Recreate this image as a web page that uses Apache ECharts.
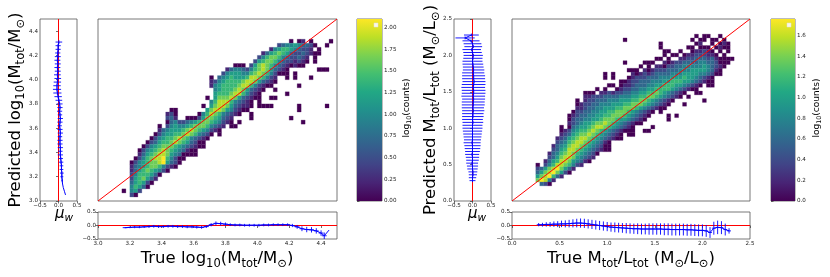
<!DOCTYPE html>
<html><head><meta charset="utf-8">
<script src="https://cdn.jsdelivr.net/npm/echarts@6/dist/echarts.min.js"></script>
<style>html,body{margin:0;padding:0;background:#fff}#c{width:830px;height:277px}</style>
</head><body><div id="c"></div>
<script>
// ================= DATA =================
// Panel 1: log10 mass. 2D histogram, rows counted from the top (rt), start column, level string
// level digit d -> log10(counts) = d * p1Vmax / 9 ; '.' = empty bin
const p1Range = [3.0, 4.5];
const p1Cols = 60, p1NRows = 45;
const p1Vmax = 2.1;
const p1Rows = [
 [5, 48, "0.01.0....0"],
 [6, 45, "2344543320..0"],
 [7, 43, "14566543221.0"],
 [8, 41, "135676532232100"],
 [9, 40, "2467764322321.0"],
 [10, 39, "25677643221210.0"],
 [11, 34, "000.25787643210100"],
 [12, 32, "1344324678753210.......000"],
 [13, 31, "24555446787642000.0"],
 [14, 28, "0.345655568876421..0.0...0"],
 [15, 28, "12456666788753210"],
 [16, 28, "1456666788642100......0"],
 [17, 29, "4566678753210..0"],
 [18, 29, "566678864210......0"],
 [19, 27, "0.577787532100..00"],
 [20, 28, "46888643210.0"],
 [21, 26, "0.57887532110.0000......0......0"],
 [22, 18, "00.......57887542100............0"],
 [23, 17, "120.....04687643210..0"],
 [24, 17, "231..000257765321....0.........0"],
 [25, 17, "03422345677654210.0...............0"],
 [26, 15, "0.245445677764321.00"],
 [27, 15, "1345556787654210"],
 [28, 14, "024556678764320.0"],
 [29, 13, "024566787643210"],
 [30, 12, "023566787653200"],
 [31, 11, "0245677765432100"],
 [32, 10, "024567876543100"],
 [33, 10, "135678875430000"],
 [34, 9, "0246788964200"],
 [35, 8, "0245677895320"],
 [36, 8, "134567764210"],
 [37, 8, "1356765420"],
 [38, 8, "24666530"],
 [39, 8, "2567531"],
 [40, 8, "356520"],
 [41, 8, "46530"],
 [42, 6, "0.452"],
 [43, 8, "20"]
];
// Panel 2: M/L
const p2Range = [0.0, 2.5];
const p2Cols = 60, p2NRows = 48;
const p2Vmax = 1.76;
const p2Rows = [
 [4, 46, "0.00..0"],
 [5, 28, "0................0.00.00.0"],
 [6, 37, "0........01..0.010"],
 [7, 37, "0......00.000.0100"],
 [8, 38, "00..0..011210.0.0"],
 [9, 38, "0.00.011222110.0"],
 [10, 36, "00.0..11223332310000"],
 [11, 28, "0....000..10122333344332000"],
 [12, 32, "0.0.110223344444543210"],
 [13, 29, "000.10122233344455554310"],
 [14, 23, "0.0....10121233334445555443200"],
 [15, 23, "0.0...0122233344455565543210"],
 [16, 27, "001223334445566655432100"],
 [17, 24, "00.011233344556665543210.00"],
 [18, 21, "0.0..012233445566665432100"],
 [19, 18, "000.1121223344556676543210..00"],
 [20, 18, "1122233334445566776543210.0"],
 [21, 16, "0.12233344455566776543210.......0"],
 [22, 16, "012233444555667776543210...0"],
 [23, 16, "11233445556677765432100"],
 [24, 15, "022334455667776543210.0"],
 [25, 14, "012334455667776543210....0.0"],
 [26, 14, "02334455677765543210.....0"],
 [27, 14, "1234556778765432100"],
 [28, 12, "0.03455678876543210....0"],
 [29, 12, "0124566787654321000..00"],
 [30, 12, "1235677876543210.00"],
 [31, 11, "12356788765432100"],
 [32, 11, "23467887654310"],
 [33, 10, "134578876543200"],
 [34, 10, "235688765432100"],
 [35, 9, "1346787654320"],
 [36, 9, "235788754321"],
 [37, 8, "135688754310"],
 [38, 6, "0.2468876421"],
 [39, 6, "2357897531"],
 [40, 6, "357897520"],
 [41, 6, "5789631"],
 [42, 6, "79841"],
 [43, 7, "320"]
];

// Residual profiles
const p1SideY = [3.05,3.08,3.11,3.14,3.17,3.20,3.23,3.26,3.29,3.32,3.35,3.38,3.41,3.44,3.47,3.50,3.53,3.56,3.59,3.62,3.65,3.68,3.71,3.74,3.77,3.80,3.83,3.86,3.89,3.92,3.95,3.98,4.01,4.04,4.07,4.10,4.13,4.16,4.19,4.22,4.25,4.28,4.31];
const p1SideMean = [0.19,0.16,0.13,0.11,0.10,0.09,0.09,0.08,0.08,0.07,0.06,0.05,0.05,0.05,0.04,0.04,0.04,0.05,0.04,0.03,0.04,0.05,0.04,0.03,0.04,0.03,0.01,-0.01,-0.03,-0.04,-0.04,-0.03,-0.02,-0.03,-0.02,-0.03,-0.02,-0.03,-0.02,-0.02,-0.01,-0.01,0.01];
const p1SideStd = [0,0,0,0,0.02,0.04,0.05,0.05,0.05,0.06,0.06,0.07,0.06,0.07,0.07,0.07,0.06,0.07,0.07,0.06,0.07,0.07,0.06,0.07,0.07,0.08,0.09,0.1,0.11,0.11,0.1,0.1,0.09,0.09,0.08,0.08,0.08,0.08,0.08,0.07,0.07,0.07,0.09];
const p1BotX = [3.17,3.20,3.23,3.26,3.29,3.32,3.35,3.38,3.41,3.44,3.47,3.50,3.53,3.56,3.59,3.62,3.65,3.68,3.71,3.74,3.77,3.80,3.83,3.86,3.89,3.92,3.95,3.98,4.01,4.04,4.07,4.10,4.13,4.16,4.19,4.22,4.25,4.28,4.31,4.34,4.37,4.40,4.42,4.45];
const p1BotMean = [-0.08,-0.07,-0.06,-0.06,-0.05,-0.04,-0.03,-0.04,-0.04,-0.03,-0.03,-0.04,-0.04,-0.05,-0.05,-0.06,-0.07,-0.04,0.03,0.08,0.07,0.05,0.03,0.02,0.02,0.01,0.01,0.01,0.01,0.02,0.02,0.03,0.03,0.03,0.03,0.00,-0.05,-0.12,-0.15,-0.16,-0.20,-0.28,-0.38,-0.17];
const p1BotStd = [0.02,0.03,0.04,0.04,0.04,0.05,0.05,0.05,0.05,0.05, 0.05,0.05,0.05,0.05,0.05,0.05,0.05,0.05,0.06,0.07, 0.07,0.06,0.05,0.05,0.05,0.05,0.05,0.05,0.05,0.05, 0.05,0.05,0.05,0.05,0.05,0.06,0.07,0.09,0.10,0.10, 0.10,0.10,0.12,0.0];
const p2SideY = [0.28,0.32,0.36,0.40,0.44,0.48,0.52,0.56,0.60,0.64,0.68,0.72,0.76,0.80,0.84,0.88,0.92,0.96,1.00,1.04,1.08,1.12,1.16,1.20,1.24,1.28,1.32,1.36,1.40,1.44,1.48,1.52,1.56,1.60,1.64,1.68,1.72,1.76,1.80,1.84,1.88,1.92,1.96,2.00,2.04,2.08,2.12,2.16,2.20,2.24,2.28];
const p2SideMean = [0.00,0.00,0.01,0.01,0.00,0.00,-0.01,0.00,0.00,-0.01, 0.00,0.00,0.00,-0.01,0.00,0.00,0.00,0.00,0.00,0.00, 0.01,0.00,0.01,0.01,0.02,0.01,0.02,0.02,0.03,0.02, 0.03,0.03,0.02,0.03,0.04,0.03,0.03,0.02,0.03,0.02, 0.01,0.00,0.01,0.02,0.00,-0.02,0.02,0.00,-0.04,-0.20,-0.03];
const p2SideStd = [0.08,0.10,0.11,0.12,0.14,0.15,0.16,0.17,0.18,0.19, 0.20,0.21,0.22,0.23,0.23,0.24,0.25,0.26,0.27,0.27, 0.28,0.28,0.29,0.29,0.30,0.30,0.31,0.31,0.31,0.32, 0.32,0.32,0.32,0.32,0.31,0.31,0.31,0.30,0.29,0.28, 0.28,0.27,0.26,0.26,0.25,0.25,0.24,0.24,0.23,0.26,0.20];
const p2BotX = [0.28,0.32,0.36,0.40,0.44,0.48,0.52,0.56,0.60,0.64,0.68,0.72,0.76,0.80,0.84,0.88,0.92,0.96,1.00,1.04,1.08,1.12,1.16,1.20,1.24,1.28,1.32,1.36,1.40,1.44,1.48,1.52,1.56,1.60,1.64,1.68,1.72,1.76,1.80,1.84,1.88,1.92,1.96,2.00,2.04,2.08,2.12,2.16,2.20,2.24,2.28];
const p2BotMean = [0.03,0.03,0.04,0.04,0.05,0.05,0.06,0.06,0.07,0.08, 0.09,0.09,0.08,0.06,0.04,0.02,0.00,-0.02,-0.04,-0.06, -0.07,-0.08,-0.09,-0.10,-0.11,-0.12,-0.12,-0.13,-0.13,-0.13, -0.13,-0.13,-0.13,-0.14,-0.14,-0.15,-0.15,-0.15,-0.15,-0.16, -0.16,-0.17,-0.18,-0.18,-0.20,-0.26,-0.10,-0.07,-0.08,-0.15,-0.20];
const p2BotStd = [0.06,0.07,0.08,0.09,0.10,0.11,0.12,0.13,0.14,0.15, 0.16,0.17,0.17,0.17,0.17,0.17,0.17,0.17,0.17,0.17, 0.18,0.18,0.18,0.19,0.19,0.19,0.20,0.20,0.20,0.21, 0.21,0.21,0.21,0.22,0.22,0.22,0.22,0.22,0.22,0.22, 0.22,0.22,0.22,0.22,0.22,0.20,0.24,0.25,0.24,0.22,0.10];

// tick labels
const p1Ticks = [3.0,3.2,3.4,3.6,3.8,4.0,4.2,4.4];
const p2Ticks = [0.0,0.5,1.0,1.5,2.0,2.5];
const resTicks = [-0.5,0.0,0.5];
const cb1Ticks = [0,0.25,0.5,0.75,1.0,1.25,1.5,1.75,2.0];
const cb2Ticks = [0,0.2,0.4,0.6,0.8,1.0,1.2,1.4,1.6];

// ================= RENDER =================
const FONT = 'DejaVu Sans';
const VIR = ['#440154','#482475','#414487','#355f8d','#2a788e','#21918c','#22a884','#44bf70','#7ad151','#bddf26','#fde725'];
function hex(c){return [parseInt(c.slice(1,3),16),parseInt(c.slice(3,5),16),parseInt(c.slice(5,7),16)];}
function viridis(t){
  t=Math.max(0,Math.min(1,t)); const f=t*10, i=Math.min(9,Math.floor(f)), u=f-i;
  const a=hex(VIR[i]), b=hex(VIR[i+1]);
  return 'rgb('+a.map((v,k)=>Math.round(v+(b[k]-v)*u)).join(',')+')';
}
function cells(rows, range, nCols, nRows, vmax){
  const bw=(range[1]-range[0])/nCols, bh=(range[1]-range[0])/nRows, out=[];
  rows.forEach(([rt,start,s])=>{
    for(let i=0;i<s.length;i++){ const ch=s[i]; if(ch==='.') continue;
      out.push([range[0]+(start+i)*bw, range[0]+(nRows-1-rt)*bh, (+ch)*vmax/9]); }
  });
  return {data:out,bw,bh};
}
const h1 = cells(p1Rows,p1Range,p1Cols,p1NRows,p1Vmax);
const h2 = cells(p2Rows,p2Range,p2Cols,p2NRows,p2Vmax);

function fmt(d){return v=>(v<-1e-9?'\u2212':'')+Math.abs(v).toFixed(d);}
function ax(gi,min,max,ticks,dec,extra){
  const show=!!ticks;
  return Object.assign({type:'value',gridIndex:gi,min:min,max:max,
    axisLine:{show:false},splitLine:{show:false},
    axisTick:{show:show,customValues:ticks||undefined,length:2.5,lineStyle:{color:'#333',width:0.7}},
    axisLabel:{show:show,customValues:ticks||undefined,formatter:fmt(dec||1),fontSize:5.6,color:'#222',margin:2,fontFamily:FONT}
  },extra||{});
}
const gridBase={show:true,borderColor:'#555',borderWidth:0.8,backgroundColor:'transparent',containLabel:false,outerBoundsMode:'none'};
const G=[[40,19,37,182],[98,19,239,182],[98,212,239,27],[357,19,25,182],[454,19,37,182],[512,19,238,182],[512,212,238,27],[771,19,24,182]]
  .map(g=>Object.assign({left:g[0],top:g[1],width:g[2],height:g[3]},gridBase));

function heatSeries(h,xi,vmax){
  return {type:'custom',xAxisIndex:xi,yAxisIndex:xi,data:h.data,encode:{x:0,y:1},silent:true,clip:true,
    renderItem:(p,api)=>{const x=api.value(0),y=api.value(1),v=api.value(2);
      const a=api.coord([x,y]),b=api.coord([x+h.bw,y+h.bh]); const c=viridis(v/vmax);
      return {type:'rect',shape:{x:a[0],y:b[1],width:b[0]-a[0],height:a[1]-b[1]},style:{fill:c,stroke:c,lineWidth:0.25}};}};
}
function lineS(xi,data,color,w){return {type:'line',xAxisIndex:xi,yAxisIndex:xi,data:data,symbol:'none',silent:true,clip:true,lineStyle:{color:color,width:w||1},z:3};}
function errSeries(xi,data){
  return {type:'custom',xAxisIndex:xi,yAxisIndex:xi,data:data,encode:{x:0,y:1},silent:true,z:4,
    renderItem:(p,api)=>{const x=api.value(0),y=api.value(1),ex=api.value(2),ey=api.value(3);
      if(ex===0&&ey===0) return null;
      const l=api.coord([x-ex,y]),r=api.coord([x+ex,y]),t=api.coord([x,y+ey]),bt=api.coord([x,y-ey]);
      return {type:'group',children:[
        {type:'line',shape:{x1:l[0],y1:l[1],x2:r[0],y2:r[1]},style:{stroke:'#0000ff',lineWidth:0.9}},
        {type:'line',shape:{x1:t[0],y1:t[1],x2:bt[0],y2:bt[1]},style:{stroke:'#0000ff',lineWidth:0.9}}]};}};
}
function cbarSeries(xi){
  const stops=VIR.map((c,i)=>({offset:i/10,color:c}));
  return {type:'custom',xAxisIndex:xi,yAxisIndex:xi,data:[[0.5,0]],encode:{x:0,y:1},silent:true,
    renderItem:(p,api)=>{const cs=p.coordSys;return {type:'rect',shape:{x:cs.x,y:cs.y,width:cs.width,height:cs.height},
      style:{fill:new echarts.graphic.LinearGradient(0,1,0,0,stops)}};}};
}
const binHalf1=0.015, binHalf2=0.02;
const s1Side=p1SideY.map((y,i)=>[p1SideMean[i],y]);
const s1SideErr=p1SideY.map((y,i)=>[p1SideMean[i],y,p1SideStd[i],p1SideStd[i]>0?binHalf1:0]);
const s1Bot=p1BotX.map((x,i)=>[x,p1BotMean[i]]);
const s1BotErr=p1BotX.map((x,i)=>[x,p1BotMean[i],p1BotStd[i]>0?binHalf1:0,p1BotStd[i]]);
const s2Side=p2SideY.map((y,i)=>[p2SideMean[i],y]);
const s2SideErr=p2SideY.map((y,i)=>[p2SideMean[i],y,p2SideStd[i],binHalf2]);
const s2Bot=p2BotX.map((x,i)=>[x,p2BotMean[i]]);
const s2BotErr=p2BotX.map((x,i)=>[x,p2BotMean[i],binHalf2,p2BotStd[i]]);

function rich(fs,sub,pad){return {
  n:{fontSize:fs,fontFamily:FONT,fill:'#000'},
  s:{fontSize:sub,fontFamily:FONT,fill:'#000',padding:[pad,0,0,0]},
  i:{fontSize:fs,fontFamily:FONT,fontStyle:'italic',fill:'#000'},
  si:{fontSize:sub,fontFamily:FONT,fontStyle:'italic',fill:'#000',padding:[pad,0,0,0]}};}
function txt(x,y,text,r,rot){return {type:'text',x:x,y:y,rotation:rot?Math.PI/2:0,silent:true,
  style:{text:text,rich:r,align:'center',verticalAlign:'middle'}};}
const R=rich(16.5,11.5,10), Rc=rich(9,6.3,5), Rm=rich(15,10.5,9);

const option={
  animation:false,
  grid:G,
  xAxis:[ax(0,-0.5,0.5,resTicks,1),ax(1,p1Range[0],p1Range[1],null),ax(2,p1Range[0],p1Range[1],p1Ticks,1),ax(3,0,1,null),
         ax(4,-0.5,0.5,resTicks,1),ax(5,p2Range[0],p2Range[1],null),ax(6,p2Range[0],p2Range[1],p2Ticks,1),ax(7,0,1,null)],
  yAxis:[ax(0,p1Range[0],p1Range[1],p1Ticks,1),ax(1,p1Range[0],p1Range[1],null),ax(2,-0.5,0.5,resTicks,1),ax(3,0,p1Vmax,cb1Ticks,2,{position:'right'}),
         ax(4,p2Range[0],p2Range[1],p2Ticks,1),ax(5,p2Range[0],p2Range[1],null),ax(6,-0.5,0.5,resTicks,1),ax(7,0,p2Vmax,cb2Ticks,1,{position:'right'})],
  series:[
    heatSeries(h1,1,p1Vmax), lineS(1,[[p1Range[0],p1Range[0]],[p1Range[1],p1Range[1]]],'#ff0000',1),
    lineS(0,[[0,p1Range[0]],[0,p1Range[1]]],'#ff0000',1), lineS(0,s1Side,'#0000ff',1), errSeries(0,s1SideErr),
    lineS(2,[[p1Range[0],0],[p1Range[1],0]],'#ff0000',1), lineS(2,s1Bot,'#0000ff',1), errSeries(2,s1BotErr),
    cbarSeries(3),
    heatSeries(h2,5,p2Vmax), lineS(5,[[p2Range[0],p2Range[0]],[p2Range[1],p2Range[1]]],'#ff0000',1),
    lineS(4,[[0,p2Range[0]],[0,p2Range[1]]],'#ff0000',1), lineS(4,s2Side,'#0000ff',1), errSeries(4,s2SideErr),
    lineS(6,[[p2Range[0],0],[p2Range[1],0]],'#ff0000',1), lineS(6,s2Bot,'#0000ff',1), errSeries(6,s2BotErr),
    cbarSeries(7)
  ],
  graphic:[
    txt(16,110,'{n|Predicted log}{s|10}{n|(M}{s|tot}{n|/M}{s|\u2299}{n|)}',R,true),
    txt(217,259,'{n|True log}{s|10}{n|(M}{s|tot}{n|/M}{s|\u2299}{n|)}',R,false),
    txt(431,110,'{n|Predicted M}{s|tot}{n|/L}{s|tot}{n| (M}{s|\u2299}{n|/L}{s|\u2299}{n|)}',R,true),
    txt(631,259,'{n|True M}{s|tot}{n|/L}{s|tot}{n| (M}{s|\u2299}{n|/L}{s|\u2299}{n|)}',R,false),
    txt(407,108,'{n|log}{s|10}{n|(counts)}',Rc,true),
    txt(817,108,'{n|log}{s|10}{n|(counts)}',Rc,true),
    txt(64,214,'{i|\u03bc}{si|w}',Rm,false),
    txt(477,214,'{i|\u03bc}{si|w}',Rm,false),
    {type:'rect',shape:{x:374,y:23,width:4,height:4},style:{fill:'#fbf8e4',stroke:'#ddd',lineWidth:0.5},silent:true,z:10},
    {type:'rect',shape:{x:787,y:23,width:4,height:4},style:{fill:'#fbf8e4',stroke:'#ddd',lineWidth:0.5},silent:true,z:10}
  ]
};
const chart=echarts.init(document.getElementById('c'),null,{renderer:'canvas',width:830,height:277});
chart.setOption(option);
</script></body></html>
